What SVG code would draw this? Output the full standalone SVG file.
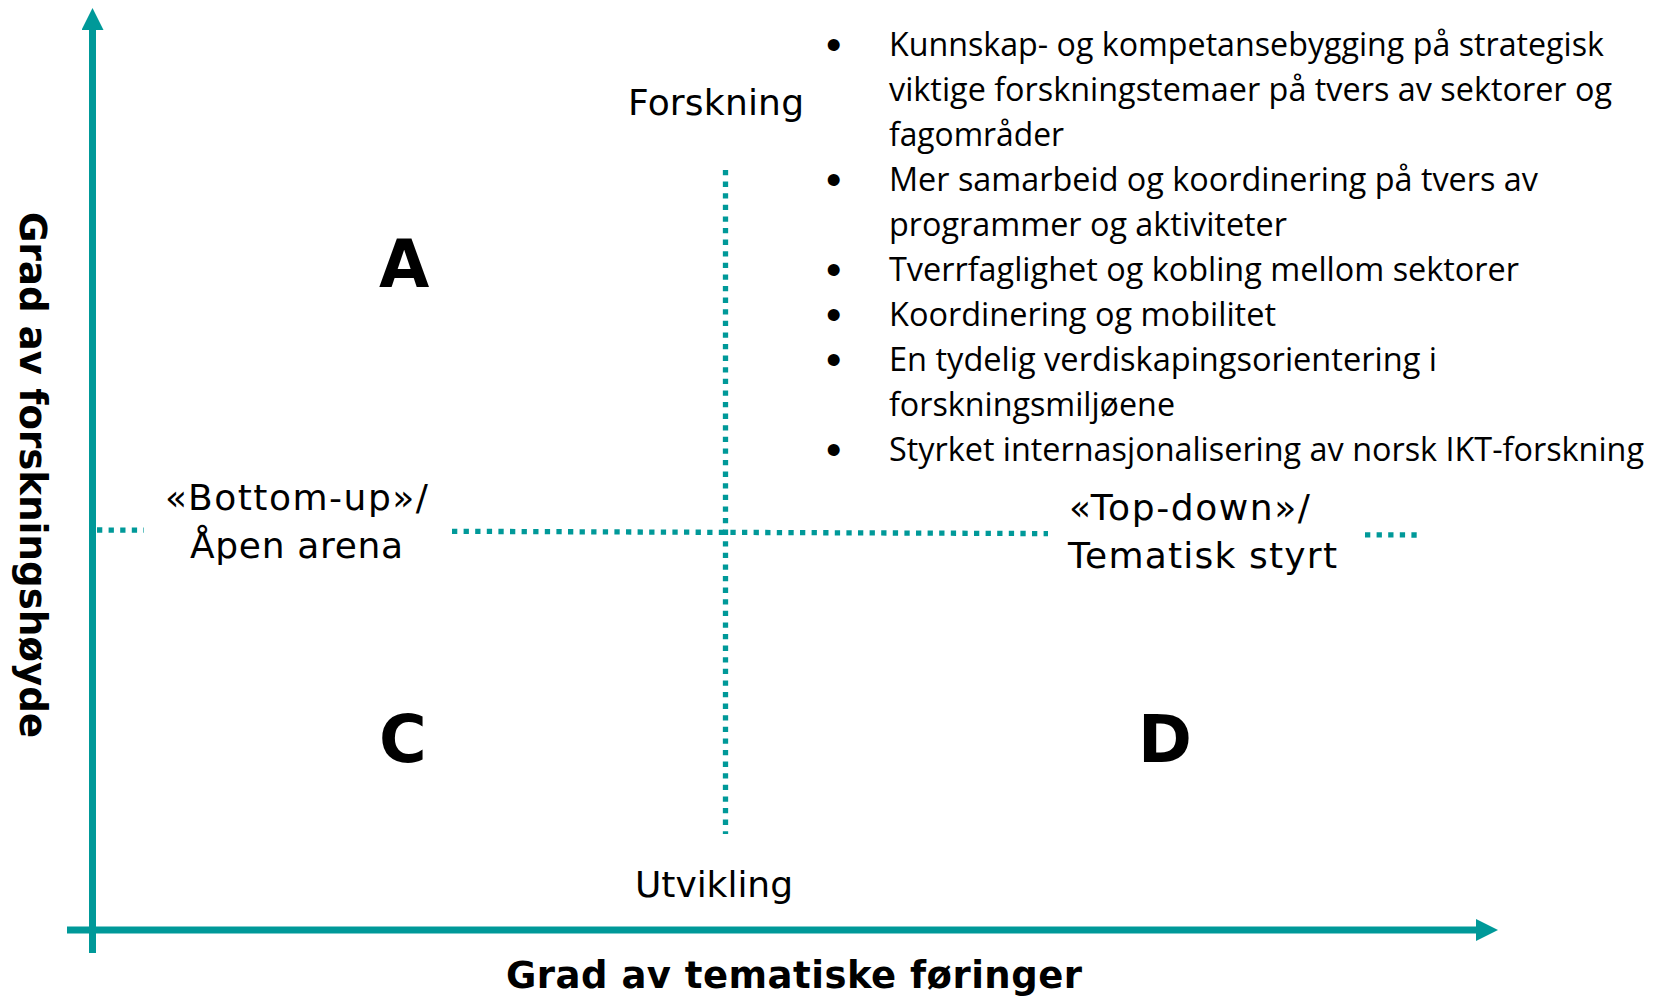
<svg xmlns="http://www.w3.org/2000/svg" width="1660" height="996" viewBox="0 0 1660 996">
<style>
.axis{stroke:#009999;stroke-width:7;fill:none}
.dot{stroke:#009999;stroke-width:5.3;stroke-dasharray:5.3 6.3;fill:none}
.lbl{font-family:"DejaVu Sans",Verdana,sans-serif;font-size:36px;fill:#000}
.big{font-family:"DejaVu Sans",Verdana,sans-serif;font-size:65px;font-weight:bold;fill:#000}
.ax{font-family:"DejaVu Sans",Verdana,sans-serif;font-size:37px;font-weight:bold;fill:#000}
.bul{font-family:"Open Sans","Noto Sans",sans-serif;font-size:33px;fill:#000}
.bd{font-family:"Liberation Sans",Arial,sans-serif;font-size:44px;fill:#000}
</style>
<defs>
<marker id="ah" viewBox="0 0 22 22" refX="0" refY="11" markerWidth="22" markerHeight="22" markerUnits="userSpaceOnUse" orient="auto">
<path d="M0,0 L22,11 L0,22 Z" fill="#009999"/>
</marker>
</defs>
<g id="connectors">
<line class="axis" x1="92.5" y1="953" x2="92.5" y2="30" marker-end="url(#ah)"/>
<line class="axis" x1="67" y1="930" x2="1476" y2="930" marker-end="url(#ah)"/>
<line class="dot" x1="725.5" y1="170" x2="725.5" y2="834"/>
<line class="dot" x1="97" y1="530" x2="144" y2="530.2"/>
<line class="dot" x1="452" y1="531.3" x2="1048" y2="533.6"/>
<line class="dot" x1="1365" y1="534.8" x2="1418" y2="535"/>
</g>
<g id="forskning"><text class="lbl" x="628" y="115" textLength="176" lengthAdjust="spacing">Forskning</text></g>
<g id="utvikling"><text class="lbl" x="635" y="897" textLength="158" lengthAdjust="spacing">Utvikling</text></g>
<g id="bottom-up">
<text class="lbl" x="165" y="510" textLength="263" lengthAdjust="spacing">«Bottom-up»/</text>
<text class="lbl" x="190" y="558" textLength="213" lengthAdjust="spacing">Åpen arena</text>
</g>
<g id="top-down">
<text class="lbl" x="1069" y="520" textLength="241" lengthAdjust="spacing">«Top-down»/</text>
<text class="lbl" x="1068" y="568" textLength="269" lengthAdjust="spacing">Tematisk styrt</text>
</g>
<g id="quadA"><text class="big" x="379" y="287">A</text></g>
<g id="quadC"><text class="big" x="379" y="762">C</text></g>
<g id="quadD"><text class="big" x="1138" y="762">D</text></g>
<g id="y-label"><text class="ax" transform="translate(20,212) rotate(90)" textLength="526" lengthAdjust="spacing">Grad av forskningshøyde</text></g>
<g id="x-label"><text class="ax" x="506" y="988" textLength="576" lengthAdjust="spacing">Grad av tematiske føringer</text></g>
<g id="bullets">
<text class="bd" x="826" y="60">•</text>
<text class="bul" x="889" y="56" textLength="715" lengthAdjust="spacingAndGlyphs">Kunnskap- og kompetansebygging på strategisk</text>
<text class="bul" x="889" y="101" textLength="723" lengthAdjust="spacingAndGlyphs">viktige forskningstemaer på tvers av sektorer og</text>
<text class="bul" x="889" y="146" textLength="175" lengthAdjust="spacingAndGlyphs">fagområder</text>
<text class="bd" x="826" y="195">•</text>
<text class="bul" x="889" y="191" textLength="649" lengthAdjust="spacingAndGlyphs">Mer samarbeid og koordinering på tvers av</text>
<text class="bul" x="889" y="236" textLength="398" lengthAdjust="spacingAndGlyphs">programmer og aktiviteter</text>
<text class="bd" x="826" y="285">•</text>
<text class="bul" x="889" y="281" textLength="630" lengthAdjust="spacingAndGlyphs">Tverrfaglighet og kobling mellom sektorer</text>
<text class="bd" x="826" y="330">•</text>
<text class="bul" x="889" y="326" textLength="387" lengthAdjust="spacingAndGlyphs">Koordinering og mobilitet</text>
<text class="bd" x="826" y="375">•</text>
<text class="bul" x="889" y="371" textLength="548" lengthAdjust="spacingAndGlyphs">En tydelig verdiskapingsorientering i</text>
<text class="bul" x="889" y="416" textLength="286" lengthAdjust="spacingAndGlyphs">forskningsmiljøene</text>
<text class="bd" x="826" y="465">•</text>
<text class="bul" x="889" y="461" textLength="755" lengthAdjust="spacingAndGlyphs">Styrket internasjonalisering av norsk IKT-forskning</text>
</g>
</svg>
